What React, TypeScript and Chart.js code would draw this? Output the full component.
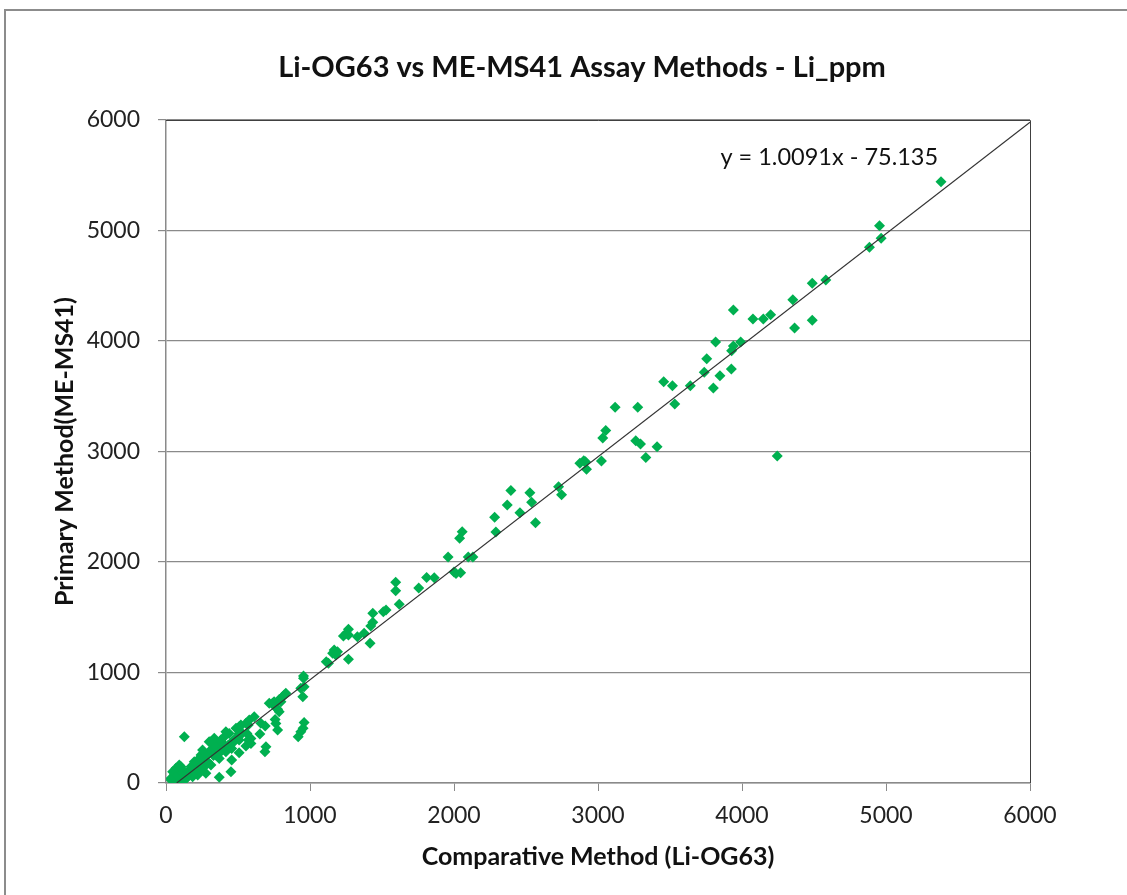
import React, { useEffect, useRef } from "react";
import { Chart, registerables } from "chart.js";

Chart.register(...registerables);

const chartTitle = "Li-OG63 vs ME-MS41 Assay Methods - Li_ppm";
const xAxisTitle = "Comparative Method (Li-OG63)";
const yAxisTitle = "Primary Method(ME-MS41)";
const trendLabel = "y = 1.0091x - 75.135";
const trendSlope = 1.0091;
const trendIntercept = -75.135;
const trendXRange = [74.46, 6000];
const trendLabelPos = [4606, 5665];
const axisMin = 0;
const axisMax = 6000;
const axisStep = 1000;

const comparativeValues = [
  5382, 4955, 4966, 4885, 4582, 4488, 4353, 4365, 4488, 4199, 4148, 4076,
  3940, 3991, 3940, 3928, 3926, 3817, 3847, 3801, 3755, 3738, 3641, 3533,
  3517, 3456, 3276, 3119, 3054, 3033, 3262, 3295, 3410, 3332, 3024, 4245,
  2920, 2901, 2874, 2913, 2747, 2726, 2566, 2539, 2527, 2458, 2395, 2370,
  2282, 2291, 2131, 2099, 1959, 2057, 2039, 2000, 2046, 2014, 1863, 1810,
  1755, 1595, 1595, 1620, 1528, 1509, 1436, 1436, 1422, 1267, 1417, 1253,
  1267, 1232, 1329, 1376, 1168, 1191, 1157, 1179, 1267, 1113, 1128, 955,
  955, 936, 950, 959, 832, 821, 786, 798, 758, 740, 717, 758, 763, 775,
  652, 613, 689, 694, 687, 959, 952, 936, 918, 571, 555, 508, 508, 456,
  451, 370, 127, 775, 751, 786, 809, 590, 571, 520, 497, 508, 562, 446,
  462, 416, 456, 381, 405, 312, 335, 358, 300, 324, 261, 289, 312, 243,
  220, 196, 185, 162, 208, 127, 150, 104, 81, 58, 35, 58, 92, 69, 104,
  46, 81, 266, 243, 220, 185, 277, 347, 370, 555, 590, 659, 508, 150,
  200, 230, 280, 330, 380, 430, 480, 530, 120, 140, 170, 95, 60,
  46, 69, 104, 139, 173, 208, 243, 277, 312, 300, 347, 381, 405, 439,
  486, 520, 578, 462, 370, 231, 127, 35, 92, 254, 335, 416,
];

const primaryValues = [
  5442, 5044, 4930, 4848, 4552, 4522, 4374, 4118, 4187, 4238, 4199, 4199,
  4281, 3991, 3955, 3912, 3747, 3991, 3686, 3575, 3840, 3717, 3596, 3430,
  3596, 3632, 3400, 3400, 3191, 3122, 3098, 3068, 3044, 2946, 2914, 2959,
  2839, 2917, 2894, 2908, 2609, 2682, 2356, 2540, 2627, 2446, 2647, 2516,
  2405, 2272, 2045, 2045, 2045, 2274, 2215, 1910, 1903, 1896, 1857, 1860,
  1765, 1816, 1739, 1617, 1566, 1550, 1536, 1454, 1421, 1391, 1264, 1355,
  1339, 1330, 1324, 1355, 1204, 1188, 1174, 1158, 1119, 1098, 1083, 968,
  947, 857, 781, 872, 812, 796, 756, 736, 690, 721, 721, 575, 539, 667,
  443, 600, 516, 329, 283, 548, 495, 464, 419, 525, 540, 510, 274, 208,
  102, 52, 419, 480, 736, 645, 781, 403, 389, 519, 494, 449, 449, 358,
  374, 283, 312, 374, 344, 374, 358, 328, 283, 262, 208, 193, 163, 253,
  208, 193, 133, 102, 118, 72, 57, 57, 88, 72, 43, 27, 43, 133, 148,
  27, 27, 148, 118, 72, 57, 88, 253, 222, 335, 358, 540, 389, 100,
  140, 160, 200, 250, 300, 340, 400, 450, 60, 40, 110, 30, 10,
  102, 57, 133, 72, 148, 178, 208, 253, 299, 374, 329, 389, 419, 449,
  495, 525, 570, 359, 269, 148, 27, 27, 163, 299, 405, 464,
];

const FONT = "Lato, 'Open Sans', sans-serif";

const overlayPlugin = {
  id: "overlay",
  afterDraw(chart: any) {
    const { ctx, chartArea } = chart;
    ctx.save();
    ctx.strokeStyle = "#404040";
    ctx.lineWidth = 1;
    ctx.beginPath();
    ctx.moveTo(chartArea.left, chartArea.top + 0.5);
    ctx.lineTo(chartArea.right + 0.5, chartArea.top + 0.5);
    ctx.lineTo(chartArea.right + 0.5, chartArea.bottom);
    ctx.stroke();
    const xs = chart.scales.x;
    const ys = chart.scales.y;
    ctx.fillStyle = "#111";
    ctx.textAlign = "center";
    ctx.textBaseline = "middle";
    ctx.font = `23.5px ${FONT}`;
    ctx.fillText(trendLabel, xs.getPixelForValue(trendLabelPos[0]), ys.getPixelForValue(trendLabelPos[1]));
    ctx.font = `bold 29px ${FONT}`;
    ctx.fillText(chartTitle, 582, 68);
    ctx.restore();
  },
};

export default function App() {
  const canvasRef = useRef<HTMLCanvasElement | null>(null);

  useEffect(() => {
    document.body.style.margin = "0";
    const canvas = canvasRef.current;
    if (!canvas) return;
    const points = comparativeValues.map((x, i) => ({ x, y: primaryValues[i] }));
    const trend = trendXRange.map((x) => ({ x, y: trendSlope * x + trendIntercept }));
    const chart = new Chart(canvas, {
      type: "scatter",
      data: {
        datasets: [
          {
            label: "Li_ppm",
            data: points,
            pointStyle: "rectRot",
            pointRadius: 5.5,
            pointHoverRadius: 5.5,
            pointBorderWidth: 0,
            backgroundColor: "#00B050",
            borderColor: "#00B050",
            order: 2,
          },
          {
            type: "line",
            label: "trend",
            data: trend,
            borderColor: "#333333",
            borderWidth: 1.1,
            pointRadius: 0,
            fill: false,
            order: 1,
          } as any,
        ],
      },
      plugins: [overlayPlugin],
      options: {
        animation: false,
        responsive: false,
        maintainAspectRatio: false,
        layout: { padding: { left: 38, right: 97, top: 120, bottom: 0 } },
        plugins: {
          legend: { display: false },
          tooltip: { enabled: false },
          title: { display: false },
        },
        scales: {
          x: {
            type: "linear",
            min: axisMin,
            max: axisMax,
            afterFit(scale: any) {
              scale.height = 112;
            },
            ticks: {
              stepSize: axisStep,
              color: "#222",
              font: { family: FONT, size: 23 },
              padding: 11,
              maxRotation: 0,
              callback: (v: any) => String(v),
            },
            grid: {
              drawOnChartArea: false,
              drawTicks: true,
              tickLength: 8,
              color: "#8a8a8a",
            },
            border: { display: true, color: "#8a8a8a", width: 1.5 },
            title: {
              display: true,
              text: xAxisTitle,
              color: "#111",
              font: { family: FONT, size: 25, weight: "bold" },
              padding: { top: 0, bottom: 23 },
            },
          },
          y: {
            type: "linear",
            min: axisMin,
            max: axisMax,
            afterFit(scale: any) {
              scale.width = 128;
            },
            ticks: {
              stepSize: axisStep,
              color: "#222",
              font: { family: FONT, size: 23 },
              padding: 18,
              callback: (v: any) => String(v),
            },
            grid: {
              drawTicks: true,
              tickLength: 8,
              color: "#8a8a8a",
              lineWidth: 1.2,
            },
            border: { display: true, color: "#8a8a8a", width: 1.5 },
            title: {
              display: true,
              text: yAxisTitle,
              color: "#111",
              font: { family: FONT, size: 25, weight: "bold" },
              padding: { top: 12, bottom: 0 },
            },
          },
        },
      },
    });
    return () => chart.destroy();
  }, []);

  return (
    <div style={{ position: "relative", width: 1127, height: 895, overflow: "hidden", background: "#fff" }}>
      <div
        style={{
          position: "absolute",
          left: 4,
          top: 9,
          width: 1300,
          height: 1000,
          border: "2px solid #8c8c8c",
          boxSizing: "border-box",
        }}
      />
      <canvas ref={canvasRef} width={1127} height={895} style={{ position: "absolute", left: 0, top: 0 }} />
    </div>
  );
}
